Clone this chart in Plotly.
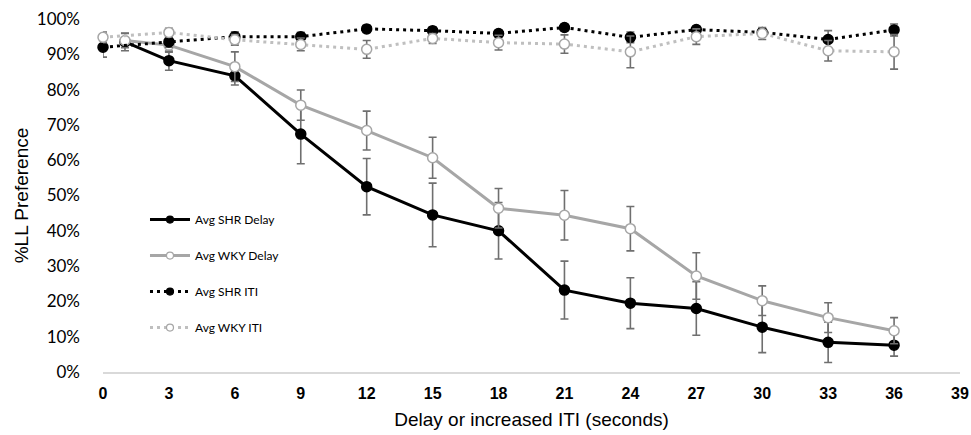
import plotly.graph_objects as go

# ---- data (percent) ----
delay_x = [1, 3, 6, 9, 12, 15, 18, 21, 24, 27, 30, 33, 36]
iti_x = [0, 3, 6, 9, 12, 15, 18, 21, 24, 27, 30, 33, 36]

shr_delay = [93.5, 88.2, 83.9, 67.4, 52.5, 44.5, 40.0, 23.2, 19.5, 18.0, 12.7, 8.4, 7.6]
shr_delay_err = [2.5, 2.7, 2.6, 8.4, 8.0, 9.0, 8.0, 8.2, 7.2, 7.6, 7.2, 5.7, 3.1]

wky_delay = [93.9, 92.6, 86.5, 75.6, 68.4, 60.7, 46.4, 44.4, 40.6, 27.2, 20.2, 15.4, 11.7]
wky_delay_err = [2.0, 2.0, 4.2, 4.3, 5.5, 5.8, 5.6, 7.0, 6.3, 6.6, 4.2, 4.2, 3.7]

shr_iti = [92.0, 93.5, 95.0, 95.0, 97.2, 96.7, 95.9, 97.6, 94.8, 97.0, 96.2, 94.2, 96.9]
shr_iti_err = [2.8, 1.5, 1.4, 1.2, 1.0, 1.0, 1.0, 1.0, 1.5, 1.0, 1.0, 2.5, 1.7]

wky_iti = [94.8, 96.2, 94.1, 92.8, 91.4, 94.5, 93.3, 92.9, 90.7, 95.0, 95.9, 91.0, 90.7]
wky_iti_err = [1.5, 1.2, 1.5, 1.8, 2.5, 1.4, 2.1, 2.6, 4.5, 2.2, 1.7, 2.9, 4.9]

x_ticks = [0, 3, 6, 9, 12, 15, 18, 21, 24, 27, 30, 33, 36, 39]
y_ticks = [0, 10, 20, 30, 40, 50, 60, 70, 80, 90, 100]

series_names = ["Avg SHR Delay", "Avg WKY Delay", "Avg SHR ITI", "Avg WKY ITI"]

ERR_COLOR = "#6f6f6f"


def err(vals):
    return dict(type="data", array=vals, visible=True, color=ERR_COLOR,
                thickness=1.6, width=4)


styles = [
    dict(line=dict(color="#000000", width=3), fill="#000000", edge="#000000"),
    dict(line=dict(color="#a6a6a6", width=3), fill="#ffffff", edge="#a6a6a6"),
    dict(line=dict(color="#000000", width=3, dash="3px,4px"), fill="#000000", edge="#000000"),
    dict(line=dict(color="#bfbfbf", width=3, dash="3px,4px"), fill="#ffffff", edge="#a6a6a6"),
]
xs = [delay_x, delay_x, iti_x, iti_x]
ys = [shr_delay, wky_delay, shr_iti, wky_iti]
es = [shr_delay_err, wky_delay_err, shr_iti_err, wky_iti_err]

fig = go.Figure()

for name, st, x, y, e in zip(series_names, styles, xs, ys, es):
    fig.add_trace(go.Scatter(
        x=x, y=y, name=name, mode="lines+markers", line=st["line"],
        marker=dict(symbol="circle", size=10, color=st["fill"],
                    line=dict(color=st["edge"], width=1.5)),
        error_y=err(e), showlegend=False, cliponaxis=False))

# legend entries (smaller symbols, as in the reference)
for i, (name, st) in enumerate(zip(series_names, styles)):
    fig.add_trace(go.Scatter(
        x=[None], y=[None], name=name, mode="lines+markers", line=st["line"],
        marker=dict(symbol="circle", size=7, color=st["fill"],
                    line=dict(color=st["edge"], width=1.2)),
        legendgroup=f"g{i}", showlegend=True))

fig.update_layout(
    width=971, height=435,
    margin=dict(l=103, r=11, t=19, b=63),
    paper_bgcolor="#ffffff", plot_bgcolor="#ffffff",
    font=dict(family="Liberation Sans, Arial, sans-serif", color="#000000"),
    showlegend=True,
    legend=dict(
        x=0.049, y=0.473, xanchor="left", yanchor="top",
        bgcolor="rgba(0,0,0,0)", traceorder="grouped", tracegroupgap=17,
        font=dict(family="Lato, sans-serif", size=12, color="#000000"),
        itemwidth=40,
    ),
    xaxis=dict(
        range=[0, 39], tickmode="array", tickvals=x_ticks,
        ticktext=[str(v) for v in x_ticks], automargin=False,
        ticklabeloverflow="allow",
        showgrid=False, zeroline=False, showline=True,
        linecolor="#d9d9d9", linewidth=1.5, ticks="",
        ticklabelstandoff=6,
        tickfont=dict(family="Liberation Sans, Arial, sans-serif", size=16, color="#000000", weight="bold"),
        title=dict(text="Delay or increased ITI (seconds)", standoff=12,
                   font=dict(family="Liberation Sans, Arial, sans-serif", size=19, color="#000000")),
    ),
    yaxis=dict(
        range=[0, 100], tickmode="array", tickvals=y_ticks,
        ticktext=[f"{v}%" for v in y_ticks], automargin=False,
        ticklabeloverflow="allow",
        showgrid=False, zeroline=False, showline=False, ticks="",
        ticklabelstandoff=22,
        tickfont=dict(family="Lato, sans-serif", size=17, color="#000000"),
        title=dict(text="%LL Preference", standoff=3,
                   font=dict(family="Liberation Sans, Arial, sans-serif", size=19, color="#000000")),
    ),
)

fig.write_html(
    "out.html",
    config={"displayModeBar": False},
    post_script="document.body.style.margin='0';document.body.style.overflow='hidden';",
)
